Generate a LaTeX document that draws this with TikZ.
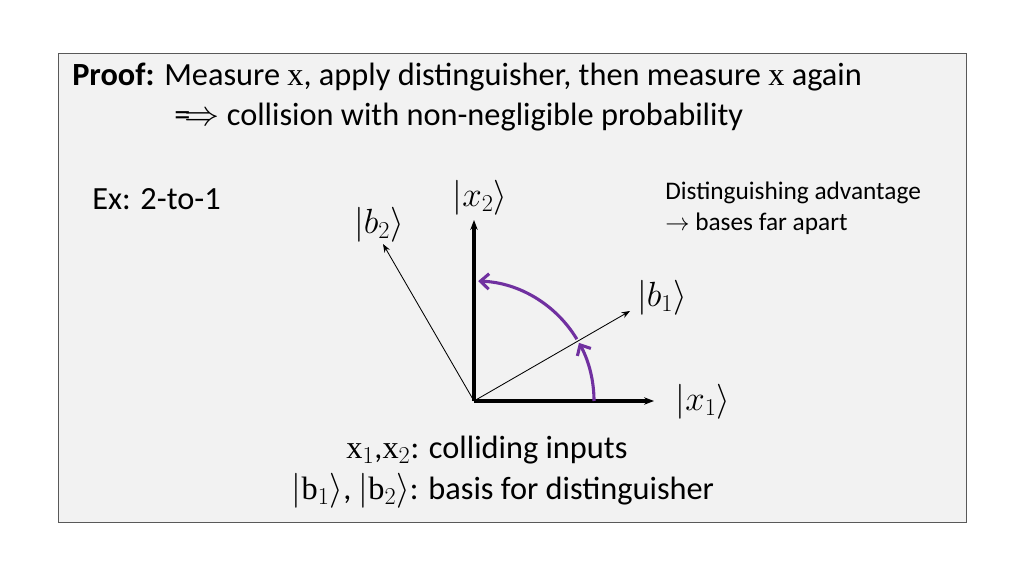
\documentclass[tikz,border=0pt]{standalone}
\usepackage{amsmath}
\usepackage{fontspec}
\setmainfont{Carlito}
\newfontfamily\serif{Liberation Serif}
\usetikzlibrary{arrows.meta,calc}
\definecolor{arcpurple}{RGB}{112,48,160}
\newcommand{\vx}{{\serif x}}
\newcommand{\vb}{{\serif b}}
\tikzset{
  txt/.style={anchor=west, inner sep=0pt, font=\fontsize{23}{27}\selectfont},
  small/.style={anchor=west, inner sep=0pt, font=\fontsize{18}{21}\selectfont},
  ket/.style={inner sep=0pt, font=\fontsize{27}{31}\selectfont},
  axis/.style={line width=2.2pt, -{Stealth[length=7pt]}},
  basis/.style={line width=0.6pt, -{Stealth[length=6pt]}},
  turn/.style={arcpurple, line width=2.2pt, -{Straight Barb[length=6pt,width=11pt]}}
}
\begin{document}
\begin{tikzpicture}[x=0.025cm, y=0.025cm]
\useasboundingbox (0,0) rectangle (1024,-576);
\draw[gray!70!black, fill=gray!10] (58,-53) rectangle (966,-522);

\node[txt] (proof) at (72,-77) {\textbf{Proof:} Measure \vx, apply distinguisher, then measure \vx{} again};
\node[txt] (coll) at (174,-117) {$\Longrightarrow$\ collision with non-negligible probability};
\node[txt] (ex) at (92,-199) {Ex: 2-to-1};
\node[small] (adv) at (665,-193) {Distinguishing advantage};
\node[small] (far) at (665,-224) {$\rightarrow$ bases far apart};

\coordinate (o) at (474,-401);
\coordinate (x1) at (654,-401);
\coordinate (x2) at (474,-220);
\coordinate (b1) at (630,-311);
\coordinate (b2) at (383,-244);
\draw[axis] (o) -- (x1);
\draw[axis] (o) -- (x2);
\draw[basis] (o) -- (b1);
\draw[basis] (o) -- (b2);

\node[ket] (lx1) at (703,-402) {$|x_1\rangle$};
\node[ket] (lx2) at (480,-198) {$|x_2\rangle$};
\node[ket] (lb1) at (662,-298) {$|b_1\rangle$};
\node[ket] (lb2) at (379,-225) {$|b_2\rangle$};

\draw[turn] (594,-401) arc (0:29:120);
\draw[turn] ($(o)+(31:120)$) arc (31:88:120);

\node[anchor=center, inner sep=0pt, font=\fontsize{23}{27}\selectfont] (inp) at (487,-450) {\vx$_1$,\vx$_2$: colliding inputs};
\node[anchor=center, inner sep=0pt, font=\fontsize{23}{27}\selectfont] (bas) at (503,-491) {$|$\vb$_1\rangle$, $|$\vb$_2\rangle$: basis for distinguisher};
\end{tikzpicture}
\end{document}
